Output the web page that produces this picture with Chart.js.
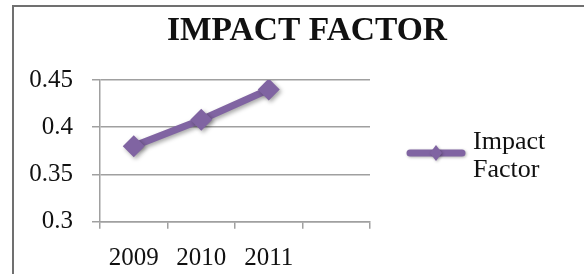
<!DOCTYPE html>
<html>
<head>
<meta charset="utf-8">
<script src="https://cdn.jsdelivr.net/npm/chart.js@4/dist/chart.umd.min.js"></script>
<style>
  html, body { margin: 0; padding: 0; background: #fff; }
  body { width: 584px; height: 274px; position: relative; overflow: hidden; }
  #frame { position: absolute; left: 12px; top: 5px; width: 700px; height: 400px;
           border: 2px solid #707070; box-sizing: border-box; }
  #wrap { position: absolute; left: 0; top: 0; width: 584px; height: 274px; }
</style>
</head>
<body>
<div id="frame"></div>
<div id="wrap"><canvas id="c" width="584" height="274"></canvas></div>
<script>
const categories = ['2009', '2010', '2011', ''];
const impactFactor = [0.38, 0.408, 0.44, null];
const seriesName = ['Impact', 'Factor'];
const chartTitle = 'IMPACT FACTOR';
const yMin = 0.3, yMax = 0.45, yStep = 0.05;

const PURPLE = '#8064A2';
const SERIF = '"Liberation Serif", "Times New Roman", serif';

const shadowPlugin = {
  id: 'shadow',
  beforeDatasetsDraw(chart) {
    const ctx = chart.ctx;
    ctx.save();
    ctx.shadowColor = 'rgba(0,0,0,0.35)';
    ctx.shadowBlur = 4;
    ctx.shadowOffsetX = 2;
    ctx.shadowOffsetY = 2;
  },
  afterDatasetsDraw(chart) {
    chart.ctx.restore();
  }
};

const legendPlugin = {
  id: 'sideLegend',
  afterDraw(chart) {
    const ctx = chart.ctx;
    const area = chart.chartArea;
    const x0 = area.right + 40, x1 = area.right + 92, y = area.top + 73;
    ctx.save();
    ctx.shadowColor = 'rgba(0,0,0,0.3)';
    ctx.shadowBlur = 3;
    ctx.shadowOffsetX = 1;
    ctx.shadowOffsetY = 1;
    ctx.strokeStyle = PURPLE;
    ctx.lineWidth = 7;
    ctx.lineCap = 'round';
    ctx.beginPath();
    ctx.moveTo(x0, y);
    ctx.lineTo(x1, y);
    ctx.stroke();
    const cx = (x0 + x1) / 2;
    ctx.fillStyle = PURPLE;
    ctx.beginPath();
    ctx.moveTo(cx, y - 8);
    ctx.lineTo(cx + 6, y);
    ctx.lineTo(cx, y + 8);
    ctx.lineTo(cx - 6, y);
    ctx.closePath();
    ctx.fill();
    ctx.restore();
    ctx.save();
    ctx.fillStyle = '#111';
    ctx.font = '26px ' + SERIF;
    ctx.textAlign = 'left';
    ctx.textBaseline = 'alphabetic';
    ctx.fillText(seriesName[0], x1 + 11, y - 4);
    ctx.fillText(seriesName[1], x1 + 11, y + 24);
    ctx.restore();
  }
};

new Chart(document.getElementById('c'), {
  type: 'line',
  data: {
    labels: categories,
    datasets: [{
      label: seriesName.join(' '),
      data: impactFactor,
      borderColor: PURPLE,
      backgroundColor: PURPLE,
      borderWidth: 7,
      pointStyle: 'rectRot',
      pointRadius: 11,
      pointHoverRadius: 11,
      pointBorderWidth: 0,
      pointBackgroundColor: PURPLE,
      tension: 0,
      spanGaps: false
    }]
  },
  options: {
    responsive: false,
    animation: false,
    devicePixelRatio: 1,
    layout: { padding: { left: 30, right: 0, top: 0, bottom: 0 } },
    plugins: {
      legend: { display: false },
      tooltip: { enabled: false },
      title: {
        display: true,
        text: chartTitle,
        color: '#111',
        font: { family: SERIF, size: 33.5, weight: 'bold' },
        padding: { top: 11, bottom: 28.8 }
      }
    },
    scales: {
      x: {
        type: 'category',
        offset: true,
        grid: { display: true, offset: true, drawOnChartArea: false, drawTicks: true,
                tickLength: 7, color: '#a0a0a0', lineWidth: 1.5 },
        border: { display: true, color: '#a0a0a0', width: 1.5 },
        ticks: { color: '#111', font: { family: SERIF, size: 25 }, padding: 15,
                 maxRotation: 0, autoSkip: false },
        afterFit(scale) { scale.height = 52.3; }
      },
      y: {
        type: 'linear',
        position: 'left',
        min: yMin,
        max: yMax,
        ticks: { stepSize: yStep, color: '#111', font: { family: SERIF, size: 25 }, padding: 19,
                 callback: (v) => String(parseFloat(Number(v).toFixed(2))) },
        grid: { color: '#a0a0a0', lineWidth: 1.5, tickLength: 8, drawTicks: true },
        border: { display: true, color: '#a0a0a0', width: 1.5 },
        afterFit(scale) { scale.width = 70; }
      },
      spacer: {
        type: 'linear',
        position: 'right',
        display: true,
        grid: { display: false, drawTicks: false },
        border: { display: false },
        ticks: { display: false },
        afterFit(scale) { scale.width = 214; }
      }
    }
  },
  plugins: [shadowPlugin, legendPlugin]
});
</script>
</body>
</html>
